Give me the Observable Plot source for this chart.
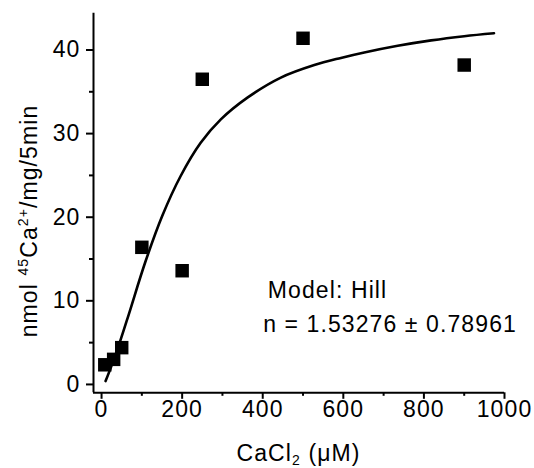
<!DOCTYPE html>
<html><head><meta charset="utf-8">
<script src="https://cdn.jsdelivr.net/npm/d3@7"></script>
<script src="https://cdn.jsdelivr.net/npm/@observablehq/plot@0.6"></script>
<style>
body{margin:0;background:#fff}
svg{font-family:"Liberation Sans",Arial,sans-serif}
</style>
</head><body><div id="chart"></div>
<script>
// Measured points
const concentration = [8, 30, 50, 100, 200, 250, 500, 900];
const uptake = [2.35, 3.0, 4.4, 16.4, 13.6, 36.5, 41.4, 38.2];
// Hill fit curve
const fitX = [10, 26, 47, 68, 109, 151, 196, 246, 296, 362, 445, 528, 594, 652, 735, 818, 900, 974];
const fitY = [0.4, 2.4, 5.3, 8.45, 14.7, 20.2, 24.9, 28.9, 31.7, 34.3, 36.7, 38.2, 39.05, 39.7, 40.5, 41.15, 41.65, 42.0];
// Ticks
const xTicks = [0, 200, 400, 600, 800, 1000];
const xMinor = [100, 300, 500, 700, 900];
const yTicks = [0, 10, 20, 30, 40];
const yMinor = [5, 15, 25, 35];
const annotation = ["Model: Hill", "n = 1.53276 ± 0.78961"];

const points = concentration.map((c, i) => ({x: c, y: uptake[i]}));
const fit = fitX.map((c, i) => ({x: c, y: fitY[i]}));

const FS = 23;
const plot = Plot.plot({
  width: 534,
  height: 468,
  marginLeft: 93,
  marginRight: 30,
  marginTop: 12.7,
  marginBottom: 75.7,
  style: {background: "#fff", color: "#000", letterSpacing: "1.1px", fontFamily: '"Liberation Sans",Arial,sans-serif'},
  x: {domain: [-20, 1000]},
  y: {domain: [-1, 44.4]},
  marks: [
    Plot.axisX(xTicks, {tickSize: 6.5, tickPadding: 1, fontSize: FS, label: null, strokeWidth: 2, tickFormat: d => String(d)}),
    Plot.axisX(xMinor, {tickSize: 3.5, text: null, label: null, strokeWidth: 2}),
    Plot.axisY(yTicks, {tickSize: 7, tickPadding: 6, fontSize: FS, label: null, strokeWidth: 2}),
    Plot.axisY(yMinor, {tickSize: 4, text: null, label: null, strokeWidth: 2}),
    Plot.ruleX([-20], {y1: -1, y2: 44.4, strokeWidth: 2}),
    Plot.ruleY([-1], {x1: -20, x2: 1000, strokeWidth: 2}),
    Plot.line(fit, {x: "x", y: "y", curve: "catmull-rom", strokeWidth: 2.6, stroke: "#000"}),
    Plot.dot(points, {x: "x", y: "y", symbol: "square", r: 7.6, fill: "#000", stroke: null}),
    Plot.text([annotation[0]], {x: 412.6, y: 10.3, text: d => d, textAnchor: "start", lineAnchor: "bottom", fontSize: FS}),
    Plot.text([annotation[1]], {x: 401, y: 6.25, text: d => d, textAnchor: "start", lineAnchor: "bottom", fontSize: FS})
  ]
});

const svg = d3.select(plot);
const xs = plot.scale("x");
const cx = (xs.apply(-20) + xs.apply(1000)) / 2;

const xl = svg.append("text")
  .attr("x", cx).attr("y", 460.5)
  .attr("text-anchor", "middle").attr("font-size", FS).attr("fill", "#000");
xl.append("tspan").text("CaCl");
xl.append("tspan").attr("font-size", 14).attr("dy", 4).text("2");
xl.append("tspan").attr("dy", -4).text(" (\u03BCM)");

const yl = svg.append("text")
  .attr("transform", `translate(37,221) rotate(-90)`)
  .attr("text-anchor", "middle").attr("font-size", FS).attr("fill", "#000");
yl.append("tspan").text("nmol ");
yl.append("tspan").attr("font-size", 14).attr("dy", -9).text("45");
yl.append("tspan").attr("dy", 9).text("Ca");
yl.append("tspan").attr("font-size", 14).attr("dy", -9).text("2+");
yl.append("tspan").attr("dy", 9).text("/mg/5min");

document.getElementById("chart").appendChild(plot);
</script>
</body></html>
